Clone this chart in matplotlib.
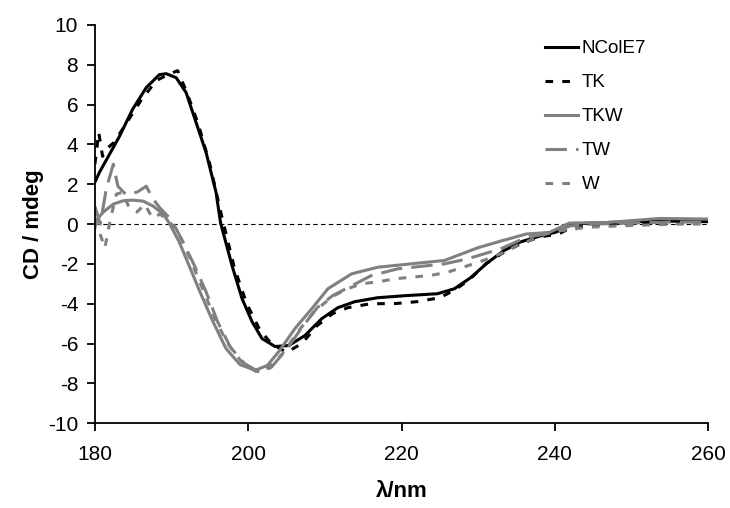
import numpy as np
import matplotlib
matplotlib.use('Agg')
import matplotlib.pyplot as plt

plt.rcParams['font.family'] = ['Liberation Sans', 'DejaVu Sans']
plt.rcParams['axes.unicode_minus'] = False

# CD spectra
wl_ncole7 = [180, 180.6, 181.9, 183.2, 184.9, 186.7, 188.4, 189.3, 190.6, 191.9, 193.2, 194.5,
             195.8, 196.4, 197.9, 199.2, 200.5, 201.8, 203.5, 205.3, 207.4, 209.6, 211.7, 213.9,
             216.9, 220.4, 224.7, 226.9, 229.0, 231.2, 233.3, 235.5, 238.1, 240.2, 242.0, 247.1,
             253.6, 260]
cd_ncole7 = [2.1, 2.6, 3.5, 4.4, 5.75, 6.85, 7.5, 7.55, 7.35, 6.6, 5.1, 3.6,
             1.6, 0.05, -2.1, -3.75, -4.9, -5.75, -6.15, -6.1, -5.6, -4.75, -4.2, -3.9,
             -3.7, -3.6, -3.5, -3.25, -2.7, -1.95, -1.35, -0.9, -0.6, -0.4, 0.0, 0.08,
             0.15, 0.12]

wl_tk = [180, 180.5, 181.0, 181.6, 182.5, 184, 186, 188, 189.5, 190.8, 192, 193.5, 195,
         196.6, 198.2, 199.8, 201.5, 203, 205, 207, 209, 211, 213, 216, 219, 222, 225, 227,
         229, 231, 233, 235.5, 238, 240.5, 242, 243, 246, 250, 255, 260]
cd_tk = [3.0, 4.6, 3.4, 3.8, 4.1, 5.0, 6.2, 7.2, 7.5, 7.7, 6.6, 5.0, 3.0,
         0.3, -2.2, -4.0, -5.3, -6.0, -6.45, -6.0, -5.1, -4.5, -4.2, -4.0, -4.0, -3.9, -3.7, -3.3,
         -2.75, -2.0, -1.5, -1.0, -0.65, -0.5, -0.2, -0.15, -0.05, 0.0, 0.05, 0.05]

wl_tkw = [180.0, 180.2, 181.1, 182.4, 183.7, 184.9, 186.3, 187.6, 188.9, 189.7, 191.0, 192.3,
          193.7, 195.4, 197.1, 198.9, 200.9, 202.5, 204.0, 206.1, 208.3, 210.4, 213.5, 216.9,
          221.2, 225.6, 229.9, 233, 236.3, 239.3, 241.9, 247, 253.6, 260]
cd_tkw = [-0.2, 0.2, 0.6, 1.0, 1.17, 1.2, 1.15, 0.9, 0.5, 0.05, -0.9, -2.1,
          -3.4, -4.9, -6.25, -7.05, -7.35, -7.1, -6.4, -5.25, -4.25, -3.25, -2.5, -2.17,
          -2.0, -1.83, -1.2, -0.85, -0.5, -0.42, 0.05, 0.08, 0.28, 0.25]

wl_tw = [180, 180.7, 181.5, 182.4, 183, 184, 185.5, 186.7, 187.5, 188.5, 190, 191.5, 193,
         194.5, 196, 197.7, 199.5, 201.5, 203, 205, 207, 209, 211, 213, 216, 219.5, 222,
         225.6, 228.6, 232.9, 236.3, 239.5, 242, 245, 250, 255, 260]
cd_tw = [0.9, 0.0, 1.8, 3.0, 1.9, 1.5, 1.6, 1.9, 1.3, 0.8, 0.2, -0.9, -2.1,
         -3.4, -4.9, -6.2, -7.0, -7.45, -7.2, -6.3, -5.2, -4.2, -3.6, -3.2, -2.6, -2.25, -2.15,
         -2.0, -1.75, -1.25, -0.67, -0.45, -0.1, 0.0, 0.05, 0.1, 0.1]

wl_w = [180, 180.5, 181.3, 182, 182.8, 183.6, 184.5, 185.5, 186.5, 187.5, 188.5, 189.8, 191.2,
        192.6, 194, 195.6, 197.3, 199.1, 201, 202.7, 204.5, 206.5, 208.6, 210.8, 212.6, 214.8,
        217, 219.1, 223.8, 226, 228.6, 230.7, 232.9, 235.1, 237.2, 239.3, 241.5, 244.1, 248,
        252, 256, 260]
cd_w = [0.3, -0.3, -1.2, 0.2, 1.5, 1.6, 0.8, 0.6, 1.0, 0.3, 0.5, 0.1, -0.7,
        -1.9, -3.2, -4.7, -6.0, -6.9, -7.4, -7.2, -6.5, -5.4, -4.4, -3.7, -3.3, -3.0,
        -2.9, -2.75, -2.58, -2.42, -2.1, -1.83, -1.5, -1.08, -0.75, -0.42, -0.3, -0.17, -0.1,
        -0.05, 0.0, 0.0]

grey = '#808080'

fig = plt.figure(figsize=(7.3, 5.08), dpi=100)
ax = fig.add_axes([0.130, 0.167, 0.840, 0.784])

ax.axhline(0, color='black', lw=0.8, ls=(0, (4, 3)))

ax.plot(wl_ncole7, cd_ncole7, color='black', lw=2.2, label='NColE7')
ax.plot(wl_tk, cd_tk, color='black', lw=2.2, ls=(0, (2.5, 3)), label='TK')
ax.plot(wl_tkw, cd_tkw, color=grey, lw=2.2, label='TKW')
ax.plot(wl_tw, cd_tw, color=grey, lw=2.2, ls=(0, (7, 3)), label='TW')
ax.plot(wl_w, cd_w, color=grey, lw=2.2, ls=(0, (2.5, 3)), label='W')

ax.set_xlim(180, 260)
ax.set_ylim(-10, 10)
ax.set_xticks(np.arange(180, 261, 20))
ax.set_yticks(np.arange(-10, 11, 2))
ax.spines['top'].set_visible(False)
ax.spines['right'].set_visible(False)
ax.spines['left'].set_linewidth(1.3)
ax.spines['bottom'].set_linewidth(1.3)
ax.tick_params(direction='out', length=6, width=1.3, labelsize=15)
ax.tick_params(axis='x', pad=10)
ax.tick_params(axis='y', pad=6)

ax.set_xlabel('λ/nm', fontsize=16, fontweight='bold', labelpad=12)
ax.set_ylabel('CD / mdeg', fontsize=16, fontweight='bold', labelpad=3)

ax.legend(loc='upper left', bbox_to_anchor=(0.706, 1.004), frameon=False, fontsize=13.5,
          handlelength=1.76, handletextpad=0.2, labelspacing=0.9)

fig.savefig('out.png', dpi=100)
